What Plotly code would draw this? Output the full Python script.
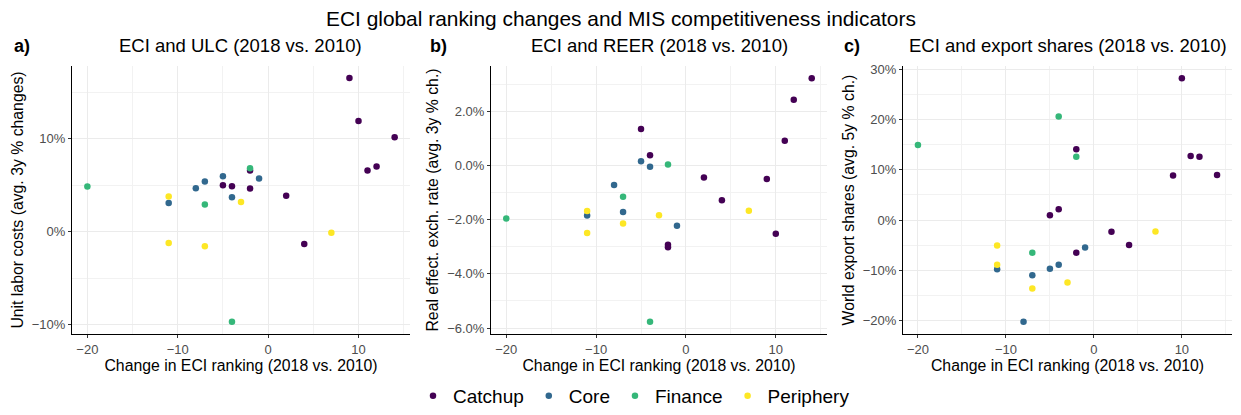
import plotly.graph_objects as go

groups = ["Catchup", "Core", "Finance", "Periphery"]
colors = ["#440154", "#31688E", "#35B779", "#FDE725"]

# Panel a: ECI change vs unit labor costs
ulc_x = {
    "Catchup": [9, 10, 14, 11, 12, -5, -4, -2, -2, 2, 4],
    "Core": [-5, -7, -8, -1, -4, -11],
    "Finance": [-20, -2, -7, -4],
    "Periphery": [-11, -11, -7, -3, 7],
}
ulc_y = {
    "Catchup": [16.5, 11.9, 10.14, 6.57, 7.0, 5.0, 4.89, 6.57, 4.64, 3.86, -1.32],
    "Core": [5.96, 5.39, 4.68, 5.71, 3.71, 3.07],
    "Finance": [4.86, 6.82, 2.93, -9.68],
    "Periphery": [3.79, -1.21, -1.57, 3.18, -0.1],
}

# Panel b: ECI change vs real effective exchange rate
reer_x = {
    "Catchup": [14, 12, 11, -5, -4, 2, 9, 4, 10, -2, -2],
    "Core": [-5, -4, -8, -7, -11, -1],
    "Finance": [-2, -7, -20, -4],
    "Periphery": [-11, -11, -7, -3, 7],
}
reer_y = {
    "Catchup": [3.23, 2.43, 0.92, 1.35, 0.38, -0.44, -0.49, -1.28, -2.52, -2.92, -3.02],
    "Core": [0.16, -0.04, -0.72, -1.71, -1.84, -2.22],
    "Finance": [0.04, -1.15, -1.95, -5.77],
    "Periphery": [-1.68, -2.49, -2.14, -1.83, -1.67],
}

# Panel c: ECI change vs world export shares
exp_x = {
    "Catchup": [10, -2, 11, 12, 9, 14, -4, -5, 2, 4, -2],
    "Core": [-1, -4, -5, -11, -7, -8],
    "Finance": [-4, -20, -2, -7],
    "Periphery": [-11, -11, 7, -3, -7],
}
exp_y = {
    "Catchup": [28.17, 14.05, 12.73, 12.6, 8.84, 8.97, 2.18, 0.99, -2.31, -4.95, -6.46],
    "Core": [-5.41, -8.84, -9.63, -9.76, -10.95, -20.18],
    "Finance": [20.58, 14.91, 12.6, -6.46],
    "Periphery": [-5.01, -8.84, -2.24, -12.4, -13.59],
}

FONT = "Liberation Sans, Arial, sans-serif"
fig = go.Figure()

panels = [
    ("x", "y", ulc_x, ulc_y),
    ("x2", "y2", reer_x, reer_y),
    ("x3", "y3", exp_x, exp_y),
]
for k, (xa, ya, px, py) in enumerate(panels):
    for g, c in zip(groups, colors):
        fig.add_trace(go.Scatter(
            x=px[g], y=py[g], mode="markers", name=g,
            marker=dict(color=c, size=6.5),
            xaxis=xa, yaxis=ya, legendgroup=g, showlegend=(k == 0),
        ))

domains = [(72 / 1241, 410 / 1241), (491 / 1241, 827 / 1241), (903 / 1241, 1232 / 1241)]
ydom = (1 - 334 / 415, 1 - 66 / 415)

minor_grid = dict(showgrid=True, gridcolor="#F2F2F2", gridwidth=0.8)
title_font = dict(size=15.8, color="black")

xcommon = dict(
    range=[-21.7, 15.7], tick0=0, dtick=10, showgrid=True, gridcolor="#EBEBEB", gridwidth=1.2,
    minor=dict(dtick=5, **minor_grid),
    showline=True, linecolor="black", linewidth=1, ticks="outside", ticklen=3,
    tickcolor="#333333", zeroline=False, tickfont=dict(size=13, color="#4D4D4D"),
    automargin=False,
    title=dict(text="Change in ECI ranking (2018 vs. 2010)", font=title_font, standoff=4),
)
ycommon = dict(
    showgrid=True, gridcolor="#EBEBEB", gridwidth=1.2,
    showline=True, linecolor="black", linewidth=1, ticks="outside", ticklen=3,
    tickcolor="#333333", zeroline=False, tickfont=dict(size=13, color="#4D4D4D"),
    automargin=False,
)

fig.update_layout(
    xaxis=dict(domain=domains[0], anchor="y", **xcommon),
    xaxis2=dict(domain=domains[1], anchor="y2", **xcommon),
    xaxis3=dict(domain=domains[2], anchor="y3", **xcommon),
    yaxis=dict(domain=ydom, anchor="x", range=[-10.99, 17.8], tick0=0, dtick=10, ticksuffix="%",
               minor=dict(dtick=5, **minor_grid),
               title=dict(text="Unit labor costs (avg. 3y % changes)", font=title_font, standoff=4),
               **ycommon),
    yaxis2=dict(domain=ydom, anchor="x2", range=[-6.22, 3.68], tick0=0, dtick=2, ticksuffix="%",
                tickformat=".1f",
                minor=dict(dtick=1, **minor_grid),
                title=dict(text="Real effect. exch. rate (avg. 3y % ch.)", font=title_font, standoff=4),
                **ycommon),
    yaxis3=dict(domain=ydom, anchor="x3", range=[-22.6, 30.6], tick0=0, dtick=10, ticksuffix="%",
                minor=dict(dtick=5, **minor_grid),
                title=dict(text="World export shares (avg. 5y % ch.)", font=title_font, standoff=4),
                **ycommon),
    width=1241, height=415,
    margin=dict(l=0, r=0, t=0, b=0),
    paper_bgcolor="white", plot_bgcolor="white",
    font=dict(family=FONT, color="black"),
    showlegend=True,
    legend=dict(orientation="h", x=634 / 1241, xanchor="center", y=0, yanchor="bottom",
                font=dict(size=19), itemsizing="trace", bgcolor="rgba(0,0,0,0)"),
)

# Titles and panel tags
fig.add_annotation(text="ECI global ranking changes and MIS competitiveness indicators",
                   x=621 / 1241, y=1 - 18 / 415, xref="paper", yref="paper",
                   showarrow=False, font=dict(size=20.9), xanchor="center", yanchor="middle")
subtitles = ["ECI and ULC (2018 vs. 2010)", "ECI and REER (2018 vs. 2010)",
             "ECI and export shares (2018 vs. 2010)"]
centers = [240, 659, 1068]
tags = ["a)", "b)", "c)"]
tag_x = [12, 428, 842]
for s, cx, t, tx in zip(subtitles, centers, tags, tag_x):
    fig.add_annotation(text=s, x=cx / 1241, y=1 - 46 / 415, xref="paper", yref="paper",
                       showarrow=False, font=dict(size=18.5), xanchor="center", yanchor="middle")
    fig.add_annotation(text="<b>" + t + "</b>", x=tx / 1241, y=1 - 46 / 415, xref="paper", yref="paper",
                       showarrow=False, font=dict(size=18), xanchor="left", yanchor="middle")

# drop the default page margin so the figure sits at the top-left corner
fig.write_html("out.html", config={"displayModeBar": False},
               post_script="document.body.style.margin='0';")
